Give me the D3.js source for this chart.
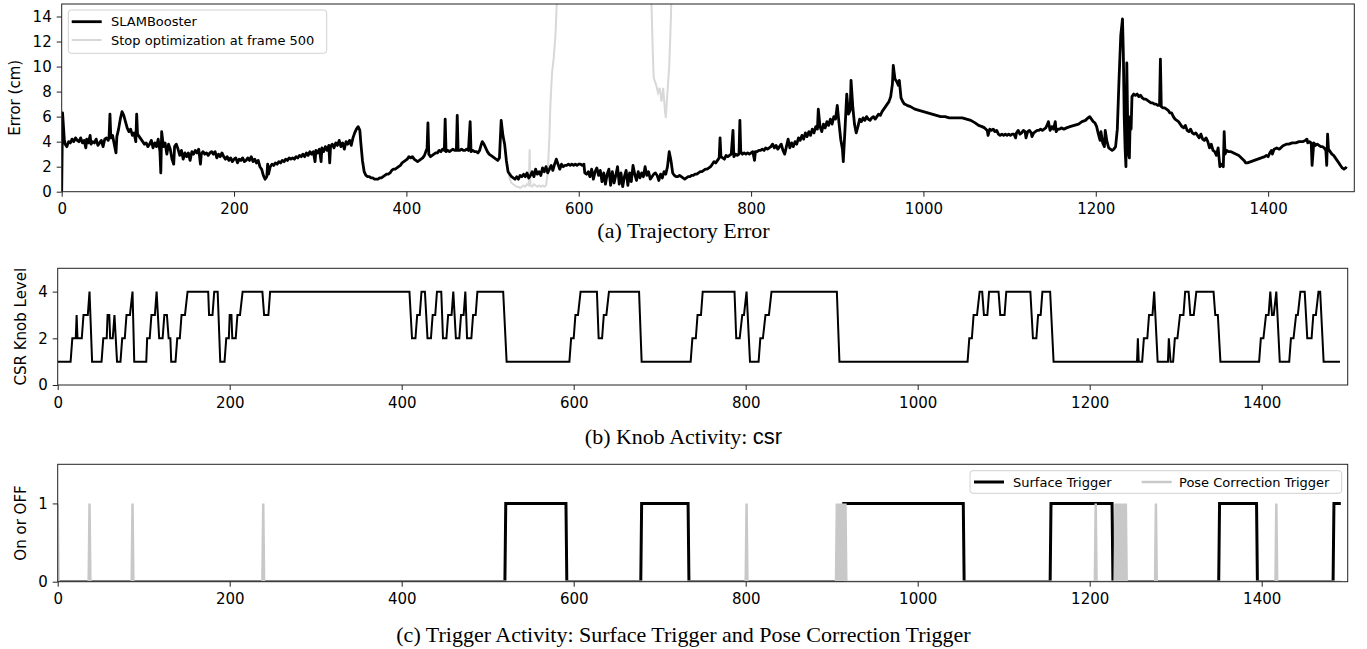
<!DOCTYPE html>
<html lang="en">
<head>
  <meta charset="UTF-8">
  <title>SLAMBooster activity</title>
  <script src="https://d3js.org/d3.v7.min.js"></script>
  <style>
    body { margin: 0; background: white; }
    .tick text { font-family: "DejaVu Sans", sans-serif; font-size: 15px; fill: #000; }
    .tick line { stroke: #222; }
    .ylab { font-family: "DejaVu Sans", sans-serif; font-size: 15px; }
    .caption { font-family: "Liberation Serif", serif; font-size: 22px; }
    .leg { font-family: "DejaVu Sans", sans-serif; font-size: 13px; }
  </style>
</head>
<body>
  <svg id="chart" width="1367" height="649"></svg>
  <script>
    // (a) trajectory error, [frame, cm]
    const slamBooster = [
      [0,0],[1,6.3],[3,4.2],[4,3.8],[6,3.6],[8,4.0],[10,3.9],[12,4.2],[14,4.0],[16,4.3],[18,4.1],[20,4.0],[22,4.3],[24,3.9],[26,4.1],[28,3.5],[29,4.2],[31,3.9],[33,4.5],[34,3.8],[36,4.0],[38,3.9],[40,4.2],[42,3.7],[44,3.9],[46,4.1],[48,3.6],[50,4.2],[52,4.3],[54,4.1],[55,4.4],[56,6.2],[57,4.3],[59,4.5],[61,3.8],[63,3.1],[64,4.4],[66,5.0],[68,5.8],[70,6.4],[72,6.1],[74,5.6],[76,5.1],[78,4.8],[80,5.0],[82,4.5],[84,4.7],[86,4.0],[87,6.2],[88,4.6],[90,4.4],[92,4.2],[94,4.0],[96,3.8],[98,3.9],[100,3.6],[102,3.8],[104,4.1],[106,3.5],[108,3.9],[110,3.6],[112,4.2],[114,3.2],[115,1.5],[116,4.8],[118,3.6],[120,3.9],[122,3.0],[124,3.8],[126,3.4],[128,2.6],[130,2.2],[131,3.6],[133,3.8],[135,3.4],[137,2.9],[139,3.3],[141,2.6],[143,3.1],[145,2.8],[147,3.1],[149,2.5],[151,3.2],[153,3.0],[155,3.3],[157,3.1],[159,3.4],[161,2.2],[162,3.0],[164,3.2],[166,3.0],[168,3.1],[170,2.9],[172,3.1],[174,3.2],[176,3.0],[178,3.2],[180,2.7],[182,3.0],[184,2.8],[186,3.1],[188,2.8],[190,2.6],[192,2.8],[194,2.5],[196,2.7],[198,2.4],[200,2.6],[202,2.7],[204,2.3],[206,2.6],[208,2.5],[210,2.7],[212,2.4],[214,2.5],[216,2.7],[218,2.5],[220,2.8],[222,2.4],[224,2.6],[226,2.3],[228,2.5],[230,2.0],[232,1.8],[234,1.3],[236,1.0],[238,1.2],[239,2.2],[240,1.4],[242,2.0],[244,2.2],[246,2.1],[248,2.3],[250,2.2],[252,2.4],[254,2.3],[256,2.5],[258,2.4],[260,2.6],[262,2.5],[264,2.7],[266,2.6],[268,2.7],[270,2.6],[272,2.8],[274,2.7],[276,2.9],[278,2.8],[280,3.0],[282,2.8],[284,3.1],[286,2.9],[288,3.2],[290,3.0],[292,3.2],[294,2.4],[295,3.3],[297,3.1],[299,3.4],[301,2.4],[302,3.5],[304,3.2],[306,3.6],[308,3.3],[310,3.7],[311,2.3],[312,3.6],[314,3.8],[316,3.5],[318,3.9],[320,3.7],[322,4.1],[324,3.6],[326,3.9],[328,3.4],[330,4.0],[332,3.8],[334,4.1],[336,3.7],[338,4.3],[340,4.7],[342,5.0],[344,5.2],[346,4.9],[347,4.0],[349,2.5],[351,1.6],[353,1.3],[355,1.2],[357,1.2],[359,1.1],[361,1.1],[363,1.0],[365,1.0],[367,1.0],[369,1.1],[371,1.1],[373,1.2],[375,1.3],[377,1.4],[379,1.4],[381,1.5],[383,1.7],[385,1.8],[387,1.8],[389,1.9],[391,2.0],[393,2.1],[395,2.3],[397,2.4],[399,2.5],[401,2.6],[403,2.8],[405,2.7],[407,2.8],[409,2.6],[411,2.5],[413,2.4],[415,2.5],[417,2.6],[419,2.7],[421,2.9],[423,3.3],[424,3.4],[425,5.5],[426,3.0],[428,2.8],[430,2.9],[432,3.0],[434,3.1],[436,3.1],[438,3.3],[440,3.2],[442,3.4],[444,3.3],[445,5.8],[446,3.2],[448,3.3],[450,3.2],[452,3.3],[454,3.4],[456,3.3],[458,3.3],[459,6.1],[460,3.3],[462,3.3],[464,3.4],[466,3.3],[468,3.3],[470,3.4],[472,3.3],[474,5.6],[475,3.2],[477,3.3],[479,3.2],[481,3.2],[483,3.1],[485,3.3],[487,3.8],[488,4.0],[490,3.8],[492,3.5],[494,3.2],[496,3.0],[498,2.9],[500,2.8],[502,2.7],[504,2.6],[506,2.5],[508,2.7],[510,5.7],[512,4.5],[514,3.8],[516,2.5],[518,1.6],[520,1.4],[522,1.2],[524,1.1],[526,1.0],[528,1.2],[530,1.0],[532,1.3],[534,1.2],[536,1.4],[538,1.2],[540,1.5],[542,1.1],[544,1.3],[546,1.6],[548,1.2],[550,1.8],[552,1.4],[554,1.6],[556,1.3],[558,1.9],[560,1.6],[562,2.0],[564,1.5],[566,1.8],[568,2.1],[570,1.7],[572,2.2],[574,2.6],[576,2.2],[578,1.8],[580,2.2],[582,2.0],[584,2.1],[586,2.1],[588,2.2],[590,2.1],[592,2.2],[594,2.1],[596,2.2],[598,2.1],[600,2.2],[602,2.2],[604,2.1],[606,2.2],[607,1.5],[609,1.4],[611,1.6],[613,1.2],[615,1.8],[617,1.0],[619,1.6],[621,1.9],[623,1.3],[625,1.7],[627,0.8],[629,1.5],[631,0.6],[633,1.4],[635,1.8],[637,0.5],[639,1.6],[641,0.7],[643,1.3],[645,2.0],[647,0.6],[649,1.5],[651,0.4],[653,1.2],[655,1.7],[657,0.5],[659,1.5],[661,0.8],[663,2.1],[665,1.4],[667,0.9],[669,1.6],[671,1.1],[673,1.5],[675,1.2],[677,2.0],[679,1.3],[681,1.6],[683,1.0],[685,1.2],[687,1.4],[689,1.5],[691,1.3],[693,0.9],[695,1.4],[697,1.1],[699,1.6],[701,1.4],[703,2.0],[705,3.2],[707,2.5],[709,1.5],[711,1.3],[713,1.2],[715,1.2],[717,1.3],[719,1.2],[721,1.1],[723,1.0],[725,1.1],[727,1.2],[729,1.2],[731,1.3],[733,1.3],[735,1.4],[737,1.4],[739,1.5],[741,1.6],[743,1.6],[745,1.7],[747,1.8],[749,1.8],[751,1.9],[753,2.0],[755,2.2],[757,2.4],[759,2.3],[761,2.5],[763,2.7],[764,4.3],[765,2.8],[767,2.7],[769,2.6],[771,2.9],[773,2.8],[775,2.9],[777,3.0],[779,4.9],[780,2.8],[782,3.0],[784,2.9],[786,3.0],[787,5.7],[788,3.2],[790,3.0],[792,3.1],[794,3.0],[796,3.1],[798,3.0],[800,3.1],[802,3.2],[804,2.5],[805,3.2],[807,3.2],[809,3.3],[811,3.3],[813,3.4],[815,3.3],[817,3.5],[819,3.4],[821,3.5],[823,3.6],[825,3.8],[827,3.5],[829,3.7],[831,3.4],[833,3.6],[835,3.8],[837,3.3],[839,3.0],[841,3.6],[843,4.2],[845,3.5],[847,3.9],[849,3.6],[851,4.0],[853,3.8],[855,4.3],[857,4.1],[859,4.5],[861,4.2],[863,4.7],[865,4.4],[867,4.8],[869,4.5],[871,5.0],[873,4.7],[875,5.2],[877,5.0],[878,6.6],[880,5.2],[882,4.8],[884,5.4],[886,5.1],[888,5.6],[890,5.3],[892,5.8],[894,5.4],[896,6.0],[898,5.8],[900,6.9],[902,5.5],[904,4.2],[906,3.4],[907,2.4],[909,5.0],[911,7.8],[913,6.2],[915,6.5],[916,8.9],[918,6.8],[920,5.4],[922,4.7],[924,5.2],[926,5.8],[928,5.6],[930,5.9],[932,5.7],[934,6.0],[936,5.8],[938,5.7],[940,5.9],[942,6.0],[944,5.8],[946,6.0],[948,6.2],[950,6.1],[952,6.4],[954,6.6],[956,6.8],[958,7.0],[960,7.2],[962,7.6],[964,8.6],[965,10.1],[967,9.0],[969,8.8],[971,8.5],[972,8.9],[974,7.5],[976,7.2],[978,7.0],[981,6.9],[985,6.8],[990,6.6],[995,6.5],[1000,6.4],[1005,6.3],[1010,6.2],[1015,6.1],[1020,6.0],[1025,6.0],[1030,5.9],[1035,5.9],[1040,5.9],[1045,5.9],[1050,5.8],[1055,5.7],[1060,5.5],[1064,5.3],[1068,5.2],[1071,5.1],[1074,4.9],[1075,4.5],[1077,5.0],[1079,4.9],[1081,5.0],[1083,4.8],[1085,4.9],[1087,4.6],[1089,4.5],[1091,4.6],[1093,4.5],[1095,4.6],[1097,4.5],[1099,4.6],[1101,4.5],[1103,4.6],[1105,4.6],[1107,4.3],[1108,4.7],[1110,4.9],[1112,4.6],[1114,4.7],[1116,4.9],[1118,4.8],[1119,4.3],[1121,4.8],[1123,4.9],[1125,4.7],[1126,4.4],[1128,4.7],[1130,4.8],[1132,4.9],[1134,4.9],[1136,5.0],[1138,4.9],[1140,5.0],[1142,5.1],[1144,5.4],[1145,5.6],[1147,4.9],[1149,5.2],[1151,5.0],[1153,5.6],[1154,4.8],[1156,5.0],[1158,5.0],[1160,5.1],[1163,5.0],[1166,5.1],[1170,5.2],[1175,5.3],[1180,5.4],[1184,5.6],[1188,5.7],[1191,5.9],[1193,6.0],[1195,5.8],[1197,5.6],[1199,5.5],[1201,5.2],[1203,4.6],[1205,4.1],[1206,4.8],[1208,3.9],[1210,3.6],[1211,4.9],[1213,4.0],[1215,3.5],[1217,3.4],[1219,3.3],[1221,3.4],[1223,3.6],[1225,5.0],[1227,9.0],[1229,12.5],[1231,13.8],[1232,11.0],[1233,6.0],[1234,3.5],[1235,2.0],[1236,10.3],[1237,5.5],[1238,3.0],[1239,2.7],[1240,6.0],[1241,5.0],[1242,7.6],[1244,7.8],[1246,7.7],[1248,7.8],[1250,7.6],[1252,7.7],[1254,7.5],[1256,7.4],[1258,7.4],[1260,7.3],[1262,7.2],[1264,7.1],[1266,7.1],[1268,7.0],[1270,7.0],[1272,6.9],[1274,6.9],[1275,10.6],[1276,6.8],[1278,6.7],[1280,6.7],[1282,6.6],[1284,6.5],[1286,6.3],[1288,6.3],[1290,6.0],[1292,5.8],[1294,5.7],[1296,5.6],[1298,5.4],[1300,5.2],[1302,5.1],[1304,5.3],[1306,4.9],[1308,4.8],[1310,5.0],[1312,4.7],[1314,4.6],[1316,4.7],[1318,4.5],[1320,4.3],[1322,4.6],[1324,4.2],[1326,4.1],[1328,4.3],[1330,4.0],[1332,3.5],[1334,3.8],[1336,3.3],[1338,3.2],[1340,2.9],[1342,3.5],[1344,2.0],[1346,2.2],[1348,2.0],[1349,4.8],[1350,3.0],[1352,3.3],[1354,3.2],[1357,3.2],[1360,3.1],[1363,3.0],[1366,2.9],[1369,2.7],[1372,2.5],[1374,2.3],[1376,2.3],[1380,2.4],[1384,2.5],[1388,2.6],[1392,2.7],[1396,2.8],[1398,2.9],[1400,2.8],[1402,3.1],[1404,3.3],[1405,3.0],[1407,3.4],[1410,3.5],[1413,3.4],[1416,3.6],[1418,3.7],[1421,3.8],[1424,3.8],[1428,3.9],[1432,3.9],[1436,4.0],[1440,4.0],[1443,4.1],[1445,4.2],[1446,3.9],[1448,4.0],[1450,3.9],[1451,2.1],[1453,3.9],[1455,3.7],[1457,3.8],[1459,3.7],[1461,3.6],[1463,3.6],[1465,3.5],[1467,3.3],[1468,2.1],[1469,4.6],[1470,3.4],[1472,3.2],[1474,3.0],[1476,2.9],[1478,2.7],[1480,2.5],[1482,2.3],[1484,2.1],[1486,1.9],[1488,1.8],[1490,1.9],[1491,2.0]
    ];
    // gray run: optimization stopped, diverges after ~frame 518
    const stopOpt500 = [
      [518,1.6],[520,1.0],[522,0.7],[524,0.6],[526,0.5],[528,0.4],[530,0.4],[532,0.3],[534,0.4],[536,0.5],[538,0.4],[540,0.6],[542,0.5],[543,3.4],[544,0.5],[546,0.4],[548,0.6],[550,0.5],[552,0.4],[554,0.5],[556,0.4],[558,0.5],[560,0.4],[562,0.5],[564,1.5],[566,4.5],[567,6.8],[569,9.5],[571,10.7],[573,12.5],[575,16],[577,25],[640,40],[680,30],[684,16],[686,11],[687,9.1],[690,8.5],[692,7.9],[694,8.3],[696,7.2],[698,8.3],[700,6.5],[701,5.9],[703,8.0],[705,10.0],[707,14.0],[708,17],[710,30],[800,40],[1491,40]
    ];

    // (b) csr knob level, [frame, level] at each change
    const csrKnob = [
      [0,1],[15,1],[17,2],[21,2],[22,3],[23,2],[28,2],[30,3],[35,3],[37,4],[40,1],[51,1],[53,2],[57,2],[58,3],[60,3],[61,2],[64,2],[66,3],[69,1],[73,1],[75,2],[78,2],[80,3],[84,3],[87,4],[89,1],[103,1],[104,2],[107,2],[109,3],[113,3],[115,4],[118,2],[122,2],[124,3],[127,3],[129,2],[131,2],[132,1],[137,1],[139,2],[142,2],[144,3],[148,3],[151,4],[175,4],[176,3],[180,3],[182,4],[186,4],[189,1],[194,1],[196,2],[199,2],[200,3],[202,3],[203,2],[207,2],[209,3],[212,3],[215,4],[238,4],[240,3],[245,3],[247,4],[409,4],[412,2],[416,2],[418,3],[421,3],[423,4],[427,4],[430,2],[434,2],[436,3],[439,3],[441,4],[446,4],[448,2],[452,2],[454,3],[458,3],[460,4],[463,2],[467,2],[469,3],[472,3],[474,4],[476,2],[481,2],[483,3],[486,3],[488,4],[518,4],[522,1],[595,1],[597,2],[600,2],[602,3],[605,3],[608,4],[627,4],[629,2],[633,2],[635,3],[638,3],[641,4],[676,4],[679,1],[736,1],[738,2],[742,2],[744,3],[748,3],[750,4],[787,4],[789,2],[793,2],[796,3],[798,3],[801,4],[805,1],[815,1],[817,2],[820,2],[823,3],[827,3],[830,4],[906,4],[909,1],[1058,1],[1060,2],[1063,2],[1065,3],[1069,3],[1072,4],[1075,4],[1077,3],[1081,3],[1083,4],[1094,4],[1096,3],[1101,3],[1103,4],[1131,4],[1134,2],[1138,2],[1140,3],[1143,3],[1145,4],[1154,4],[1158,1],[1255,1],[1256,2],[1257,1],[1261,1],[1263,2],[1267,2],[1269,3],[1273,3],[1275,4],[1279,1],[1291,1],[1292,2],[1294,1],[1297,1],[1299,2],[1302,2],[1305,3],[1309,3],[1311,4],[1315,4],[1317,3],[1321,3],[1324,4],[1344,4],[1346,3],[1349,3],[1352,1],[1397,1],[1399,2],[1402,2],[1405,3],[1408,3],[1410,4],[1412,3],[1414,3],[1417,4],[1421,1],[1432,1],[1434,2],[1437,2],[1440,3],[1442,3],[1445,4],[1450,4],[1453,2],[1458,2],[1460,3],[1463,3],[1466,4],[1468,4],[1472,1],[1491,1]
    ];

    // (c) trigger activity
    const surfaceOn = [[520,591],[678,733],[913,1053],[1154,1226],[1350,1394],[1483,1492]];
    const poseSpikes = [0,37,87,239,801,906,907,909,911,913,915,916,1207,1230,1232,1234,1236,1239,1241,1242,1277,1417];
    const lastFrame = 1492;

    const xTicks = [0,200,400,600,800,1000,1200,1400];
    const yTicksA = [0,2,4,6,8,10,12,14];
    const yTicksB = [0,2,4];
    const yTicksC = [0,1];

    const svg = d3.select("#chart");

    function makePanel(box, yMax, yTicks, ylabel, labelX) {
      const x = d3.scaleLinear().domain([0, 1500]).range([box.l, box.r]);
      const y = d3.scaleLinear().domain([0, yMax]).range([box.b, box.t]);
      const g = svg.append("g");
      const id = "clip" + Math.round(box.t);
      svg.append("clipPath").attr("id", id)
        .append("rect").attr("x", box.l).attr("y", box.t)
        .attr("width", box.r - box.l).attr("height", box.b - box.t);
      const plot = g.append("g").attr("clip-path", "url(#" + id + ")");

      g.append("g").attr("transform", "translate(0," + box.b + ")")
        .call(d3.axisBottom(x).tickValues(xTicks).tickSize(5).tickPadding(7).tickFormat(d3.format("d")))
        .call(a => a.select(".domain").remove());
      g.append("g").attr("transform", "translate(" + box.l + ",0)")
        .call(d3.axisLeft(y).tickValues(yTicks).tickSize(5).tickPadding(5).tickFormat(d3.format("d")))
        .call(a => a.select(".domain").remove());

      g.append("text").attr("class", "ylab")
        .attr("transform", "translate(" + labelX + "," + ((box.t + box.b) / 2) + ") rotate(-90)")
        .attr("text-anchor", "middle").attr("dy", "0.35em")
        .text(ylabel);
      return { x, y, g, plot, box };
    }

    function frame(p) {
      p.g.append("rect")
        .attr("x", p.box.l).attr("y", p.box.t)
        .attr("width", p.box.r - p.box.l).attr("height", p.box.b - p.box.t)
        .attr("fill", "none").attr("stroke", "#222").attr("stroke-width", 1);
    }

    function caption(y, parts) {
      const t = svg.append("text").attr("class", "caption")
        .attr("x", 683.5).attr("y", y).attr("text-anchor", "middle");
      parts.forEach(p => {
        const s = t.append("tspan").text(p.text);
        if (p.sans) s.style("font-family", "'Liberation Sans', sans-serif");
      });
    }

    // ---- (a)
    const pa = makePanel({ l: 61.7, r: 1354.3, t: 4, b: 191.7 }, 15, yTicksA, "Error (cm)", 15);
    const lineA = d3.line().x(d => pa.x(d[0])).y(d => pa.y(d[1]));
    pa.plot.append("path").datum(stopOpt500)
      .attr("d", lineA).attr("fill", "none").attr("stroke", "#d8d8d8").attr("stroke-width", 2);
    pa.plot.append("path").datum(slamBooster)
      .attr("d", lineA).attr("fill", "none").attr("stroke", "#000").attr("stroke-width", 2.8)
      .attr("stroke-linejoin", "round");
    frame(pa);

    const legA = pa.g.append("g");
    legA.append("rect").attr("x", 68.3).attr("y", 10).attr("width", 258.4).attr("height", 43.3)
      .attr("rx", 3).attr("fill", "white").attr("fill-opacity", 0.8).attr("stroke", "#d0d0d0");
    [["SLAMBooster", "#000", 2.8, 21.7], ["Stop optimization at frame 500", "#d8d8d8", 2, 40]].forEach(r => {
      legA.append("line").attr("x1", 71.7).attr("x2", 101.7).attr("y1", r[3]).attr("y2", r[3])
        .attr("stroke", r[1]).attr("stroke-width", r[2]);
      legA.append("text").attr("class", "leg").attr("x", 111).attr("y", r[3]).attr("dy", "0.35em").text(r[0]);
    });
    caption(238, [{ text: "(a) Trajectory Error" }]);

    // ---- (b)
    const pb = makePanel({ l: 57.7, r: 1347.7, t: 268.3, b: 385 }, 5, yTicksB, "CSR Knob Level", 21);
    pb.plot.append("path").datum(csrKnob)
      .attr("d", d3.line().x(d => pb.x(d[0])).y(d => pb.y(d[1])))
      .attr("fill", "none").attr("stroke", "#000").attr("stroke-width", 2);
    frame(pb);
    caption(444, [{ text: "(b) Knob Activity: " }, { text: "csr", sans: true }]);

    // ---- (c)
    const pc = makePanel({ l: 57.7, r: 1347.7, t: 464.3, b: 581.7 }, 1.5, yTicksC, "On or OFF", 21);
    const surfacePts = [[0, 0]];
    surfaceOn.forEach(s => { surfacePts.push([s[0], 0], [s[0] + 1, 1], [s[1], 1], [s[1] + 1, 0]); });
    if (surfacePts[surfacePts.length - 1][0] < lastFrame) surfacePts.push([lastFrame, 0]);
    const surfaceClean = surfacePts.filter(p => p[0] <= lastFrame);
    if (surfaceOn[surfaceOn.length - 1][1] >= lastFrame) surfaceClean.push([lastFrame, 1]);
    const posePts = [[0, 0]];
    poseSpikes.forEach(f => { posePts.push([Math.max(0, f - 1), 0], [f, 1], [f + 1, 0]); });
    posePts.push([lastFrame, 0]);
    const lineC = d3.line().x(d => pc.x(d[0])).y(d => pc.y(d[1]));
    pc.plot.append("path").datum(surfaceClean)
      .attr("d", lineC).attr("fill", "none").attr("stroke", "#000").attr("stroke-width", 3);
    pc.plot.append("path").datum(posePts)
      .attr("d", lineC).attr("fill", "none").attr("stroke", "#c8c8c8").attr("stroke-width", 2.5);
    frame(pc);

    const legC = pc.g.append("g");
    legC.append("rect").attr("x", 970).attr("y", 470.7).attr("width", 371.7).attr("height", 22.6)
      .attr("rx", 3).attr("fill", "white").attr("fill-opacity", 0.8).attr("stroke", "#d0d0d0");
    [["Surface Trigger", "#000", 3, 974, 1013], ["Pose Correction Trigger", "#c8c8c8", 2.5, 1141.7, 1179]].forEach(r => {
      legC.append("line").attr("x1", r[3]).attr("x2", r[3] + 30).attr("y1", 482).attr("y2", 482)
        .attr("stroke", r[1]).attr("stroke-width", r[2]);
      legC.append("text").attr("class", "leg").attr("x", r[4]).attr("y", 482).attr("dy", "0.35em").text(r[0]);
    });
    caption(642, [{ text: "(c) Trigger Activity: Surface Trigger and Pose Correction Trigger" }]);
  </script>
</body>
</html>
